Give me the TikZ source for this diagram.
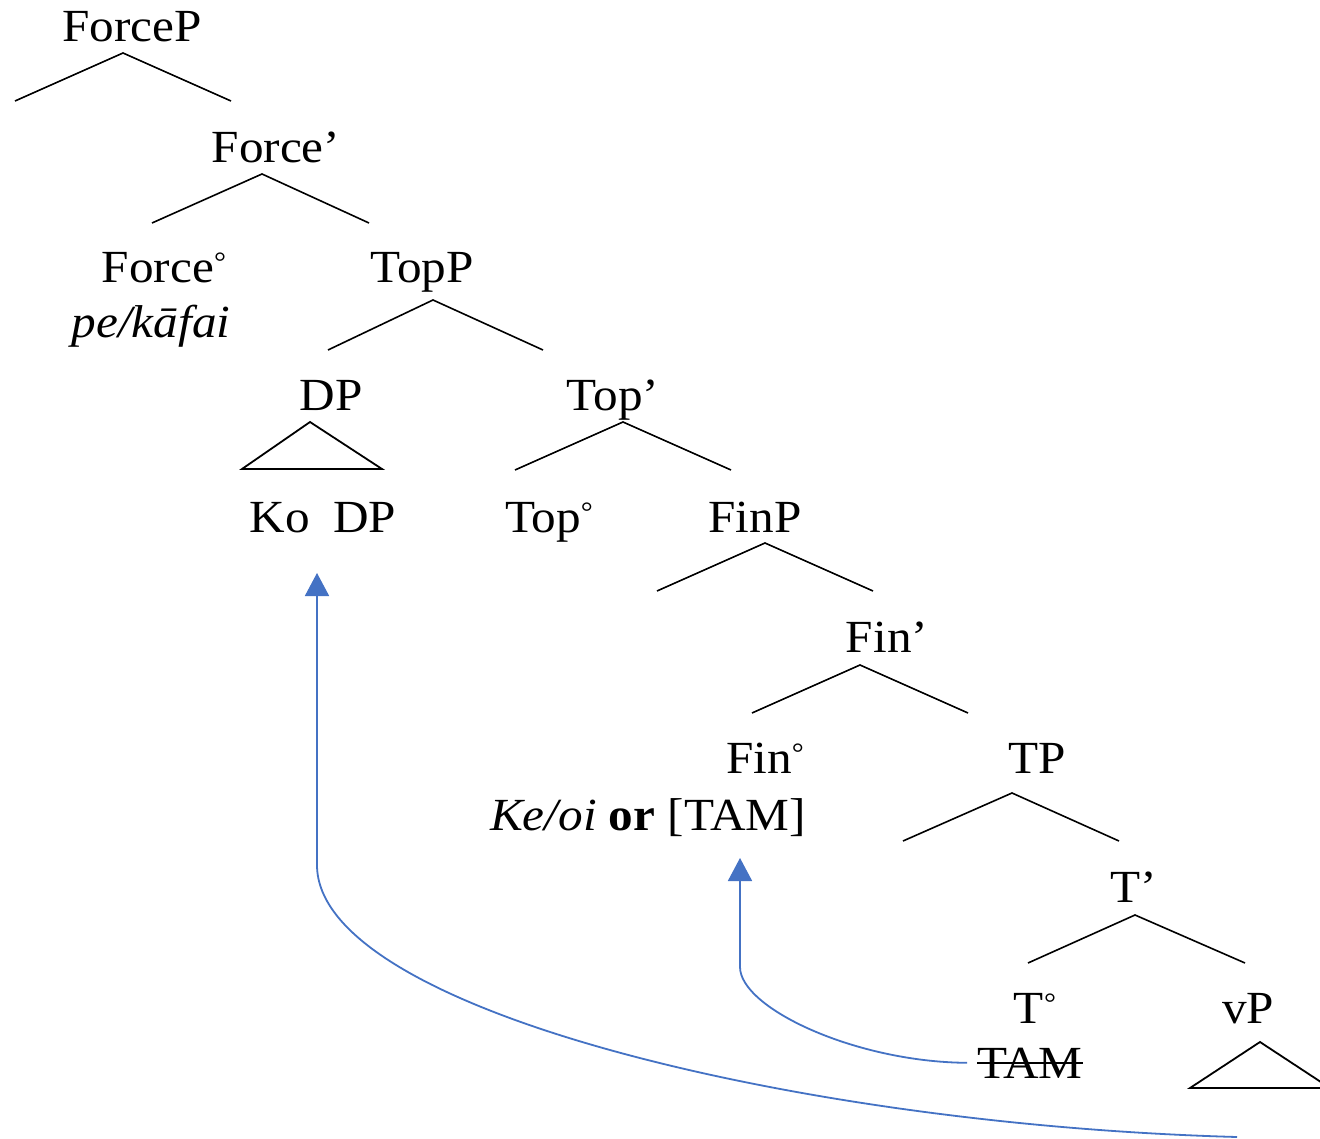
\documentclass[tikz,border=0pt]{standalone}
\usepackage{fontspec}
\setmainfont{Liberation Serif}[FakeStretch=1.07]
\usetikzlibrary{arrows.meta}
\definecolor{movecol}{HTML}{4472C4}
% small raised ring marking a head
\newcommand{\headring}{\raisebox{11pt}{\fontsize{28}{28}\selectfont °}}
\tikzset{
  lbl/.style={anchor=base, inner sep=0pt, font=\fontsize{46}{55}\selectfont},
  branch/.style={line width=1.6pt, black},
  tri/.style={line width=1.8pt, black, line join=miter},
  move/.style={movecol, line width=1.8pt, -{Triangle[width=24pt,length=23pt]}},
}
\begin{document}
\begin{tikzpicture}[x=1pt,y=-1pt]
\useasboundingbox (0,0) rectangle (1320,1139);
\fill[white] (0,0) rectangle (1320,1139);
\clip (0,0) rectangle (1320,1139);

% labels
\node[lbl] (forceP)    at (132,42)   {ForceP};
\node[lbl] (forceBar)  at (276,163)  {Force’};
\node[lbl] (forceHead) at (164,283)  {Force\headring};
\node[lbl] (forceLex)  at (151,338)  {\itshape pe/kāfai};
\node[lbl] (topP)      at (422,283)  {TopP};
\node[lbl] (dpSpec)    at (331,410)  {DP};
\node[lbl] (topBar)    at (613,410)  {Top’};
\node[lbl] (koDP)      at (323,532)  {Ko\hspace{0.5em}DP};
\node[lbl] (topHead)   at (549,532)  {Top\headring};
\node[lbl] (finP)      at (755,532)  {FinP};
\node[lbl] (finBar)    at (887,652)  {Fin’};
\node[lbl] (finHead)   at (765,773)  {Fin\headring};
\node[lbl] (finLex)    at (648,830)  {\textit{Ke/oi} \textbf{or} [TAM]};
\node[lbl] (tP)        at (1037,773) {TP};
\node[lbl] (tBar)      at (1134,902) {T’};
\node[lbl] (tHead)     at (1035,1023){T\headring};
\node[lbl] (tam)       at (1030,1078){TAM};
\node[lbl] (vP)        at (1248,1023){vP};

% struck-through copy of TAM
\draw[line width=2pt] ([yshift=15pt]tam.base west) -- ([yshift=15pt]tam.base east);

% binary branches: name / apex x / apex y / left x / right x / foot y
\foreach \n/\ax/\ay/\lx/\rx/\fy in {
  forceP/123/53/15/231/101,
  forceBar/262/174/152/369/223,
  topP/433/300/328/543/350,
  topBar/623/422/515/731/470,
  finP/765/543/657/873/591,
  finBar/860/665/752/968/713,
  tP/1012/793/903/1119/841,
  tBar/1135/915/1028/1245/963}{
  \coordinate (\n-apex)  at (\ax,\ay);
  \coordinate (\n-left)  at (\lx,\fy);
  \coordinate (\n-right) at (\rx,\fy);
  \draw[branch] (\n-left) -- (\n-apex) -- (\n-right);
}

% roof triangles
\coordinate (dpTop) at (310,422);
\draw[tri] (242,469) -- (dpTop) -- (382,469) -- cycle;
\coordinate (vpTop) at (1260,1042);
\draw[tri] (1190,1088) -- (vpTop) -- (1330,1088) -- cycle;

% movement arrows
\coordinate (koFoot)    at (317,573);
\coordinate (moveStart) at (1237,1137);
\draw[move] (moveStart) .. controls (800,1125) and (317,1010) .. (317,865) -- (koFoot);

\coordinate (finFoot) at (740,858);
\draw[move] ([xshift=-10pt]tam.west) .. controls (855,1062) and (740,1008) .. (740,967) -- (finFoot);
\end{tikzpicture}
\end{document}
